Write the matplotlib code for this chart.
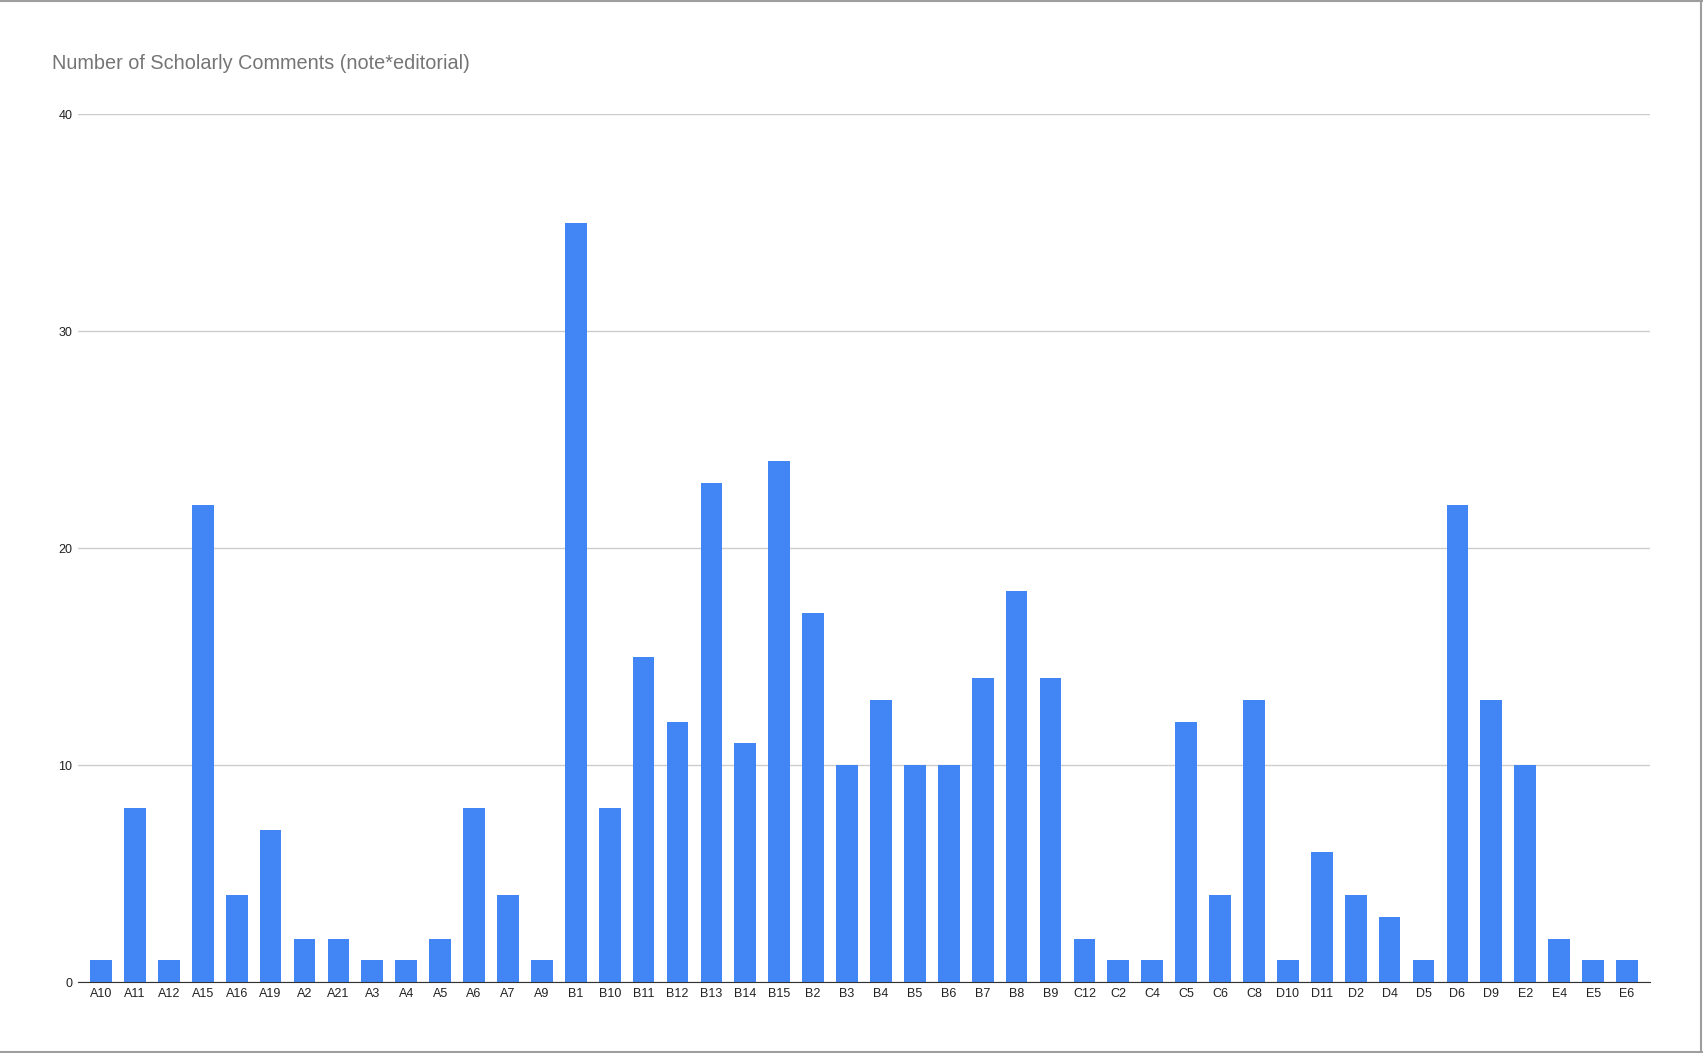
import matplotlib.pyplot as plt
from matplotlib.lines import Line2D

plt.rcParams['font.family'] = ['Liberation Sans', 'DejaVu Sans']

labels = ["A10", "A11", "A12", "A15", "A16", "A19", "A2", "A21", "A3", "A4", "A5", "A6", "A7", "A9",
          "B1", "B10", "B11", "B12", "B13", "B14", "B15", "B2", "B3", "B4", "B5", "B6", "B7", "B8", "B9",
          "C12", "C2", "C4", "C5", "C6", "C8",
          "D10", "D11", "D2", "D4", "D5", "D6", "D9",
          "E2", "E4", "E5", "E6"]
counts = [1, 8, 1, 22, 4, 7, 2, 2, 1, 1, 2, 8, 4, 1,
          35, 8, 15, 12, 23, 11, 24, 17, 10, 13, 10, 10, 14, 18, 14,
          2, 1, 1, 12, 4, 13,
          1, 6, 4, 3, 1, 22, 13,
          10, 2, 1, 1]
yticks = [0, 10, 20, 30, 40]

fig = plt.figure(figsize=(17.03, 10.53), dpi=100)
ax = fig.add_axes([0.0458, 0.0674, 0.9231, 0.8243])

x = range(len(labels))
ax.bar(x, counts, width=0.64, color='#4285f4', zorder=3)

ax.set_xlim(-0.68, len(labels) - 1 + 0.68)
ax.set_ylim(0, 40)
ax.set_yticks(yticks)
ax.set_xticks(list(x))
ax.set_xticklabels(labels)
ax.grid(axis='y', color='#cccccc', linewidth=1, zorder=0)
ax.tick_params(axis='both', length=0, labelsize=9, colors='#222222')
ax.tick_params(axis='x', pad=4)
ax.tick_params(axis='y', pad=4)
for s in ['top', 'right', 'left']:
    ax.spines[s].set_visible(False)
ax.spines['bottom'].set_color('#333333')
ax.spines['bottom'].set_zorder(4)

fig.text(0.0305, 0.940, "Number of Scholarly Comments (note*editorial)",
         fontsize=14.3, color='#757575', va='center', ha='left')

# frame on top, right and bottom only
border = dict(transform=fig.transFigure, color='#9e9e9e', linewidth=1.5)
fig.lines.append(Line2D([0, 1], [0.999, 0.999], **border))
fig.lines.append(Line2D([0.999, 0.999], [0, 1], **border))
fig.lines.append(Line2D([0, 1], [0.001, 0.001], **border))

fig.savefig('out.png', dpi=100)
